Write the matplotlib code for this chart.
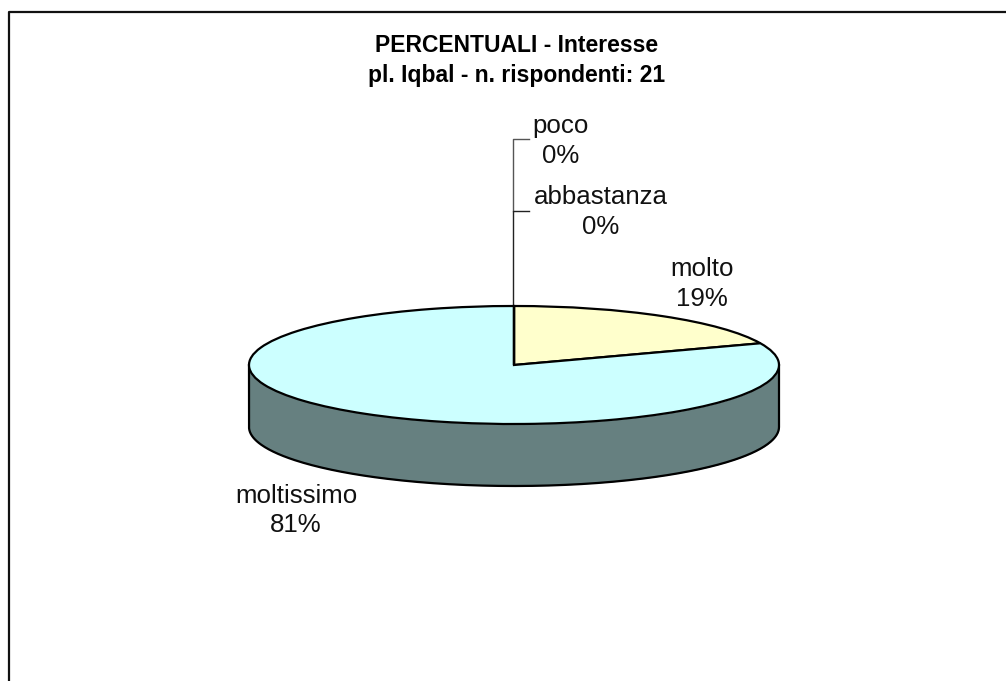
import numpy as np
import matplotlib
matplotlib.use("Agg")
import matplotlib.pyplot as plt

categories = ["molto", "moltissimo", "abbastanza", "poco"]
percent = [19, 81, 0, 0]
colors = ["#FFFFCC", "#CCFFFF", "#9999FF", "#993366"]
side_color = "#668080"
title = "PERCENTUALI - Interesse\npl. Iqbal - n. rispondenti: 21"

W, H = 1006, 681
plt.rcParams["font.family"] = ["Liberation Sans", "DejaVu Sans"]
fig = plt.figure(figsize=(W / 100, H / 100), dpi=100, facecolor="white")

# page layer in pixel coordinates
page = fig.add_axes([0, 0, 1, 1])
page.set_xlim(0, W)
page.set_ylim(H, 0)
page.axis("off")
page.plot([9.5, 9.5, W + 5], [H + 5, 11.5, 11.5], color="#111111", lw=1.6, clip_on=False)

page.text(517, 60.5, title, ha="center", va="center", fontsize=16.5, fontweight="bold",
          color="black", linespacing=1.4)

# pie layer: a unit circle squashed into an ellipse
cx, cy, rx, ry, depth = 514, 365, 265, 59, 62
pie_ax = fig.add_axes([(cx - rx) / W, 1 - (cy + ry) / H, 2 * rx / W, 2 * ry / H], zorder=2)
pie_ax.patch.set_alpha(0)

t = np.linspace(np.pi, 2 * np.pi, 300)
d = depth / ry
pie_ax.fill_between(np.cos(t), np.sin(t), np.sin(t) - d, color=side_color, lw=0, clip_on=False, zorder=1)
pie_ax.plot(np.r_[-1, np.cos(t), 1], np.r_[0, np.sin(t) - d, 0],
            color="black", lw=1.6, clip_on=False, zorder=2)

wedges, _ = pie_ax.pie(percent, colors=colors, startangle=90, counterclock=False, radius=1,
                       center=(0, 0), wedgeprops={"edgecolor": "black", "linewidth": 1.6, "zorder": 3})
for w in wedges:
    w.set_clip_on(False)
pie_ax.set_aspect("auto")
pie_ax.set_xlim(-1, 1)
pie_ax.set_ylim(-1, 1)
pie_ax.axis("off")

# data labels and leader lines
labels = [
    (702, 284, 0),
    (296, 510.5, 1),
    (600.5, 212, 2),
    (561, 141, 3),
]
for x, y, i in labels:
    page.text(x, y, f"{categories[i]}\n{percent[i]}%", ha="center", va="center", fontsize=18.6,
              color="#111111", linespacing=1.27, zorder=4)
page.plot([529, 513.5, 513.5], [139, 139, 211], color="#555555", lw=1, zorder=1)
page.plot([529, 513.5, 513.5], [211, 211, 306], color="#222222", lw=1, zorder=1)

fig.savefig("out.png", dpi=100, facecolor="white")
